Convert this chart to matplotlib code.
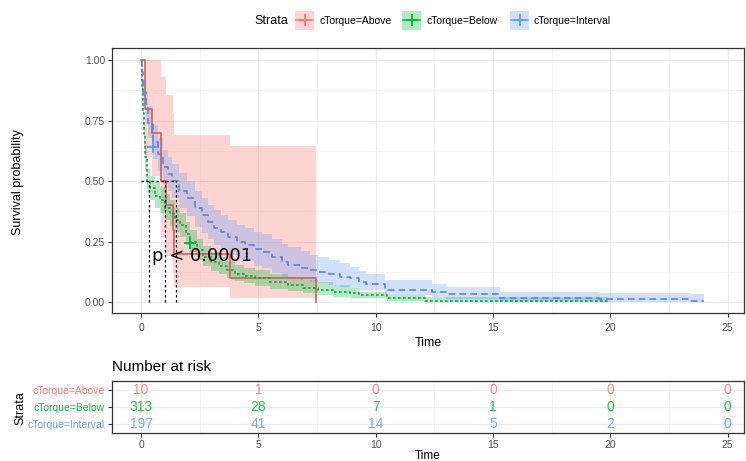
import numpy as np
import matplotlib.pyplot as plt
from matplotlib.patches import Rectangle
from matplotlib.lines import Line2D

plt.rcParams['font.family'] = ['Liberation Sans', 'DejaVu Sans']

# dane
strata = ['cTorque=Above', 'cTorque=Below', 'cTorque=Interval']
colors = ['#F8766D', '#00BA38', '#619CFF']
line_colors = ['#D0605A', '#1E9E48', '#5B84D4']

red_t = [0, 0.17, 0.46, 0.83, 1.05, 1.34, 1.41, 3.8, 7.45]
red_s = [1.0, 0.8, 0.7, 0.5, 0.4, 0.3, 0.2, 0.1, 0.0]
red_hi = [1.0, 1.0, 1.0, 0.93, 0.855, 0.78, 0.69, 0.645, 0.645]
red_lo = [1.0, 0.6, 0.52, 0.27, 0.19, 0.12, 0.063, 0.018, 0.018]

green_t = [0, 0.03, 0.07, 0.12, 0.18, 0.27, 0.4, 0.6, 0.81, 1.0, 1.24, 1.45, 1.66, 1.9, 2.09, 2.4,
           2.66, 3.0, 3.3, 3.65, 4.0, 4.4, 4.86, 5.5, 6.28, 6.9, 7.56, 8.2, 8.9, 9.3, 10.5, 12.1, 19.9]
green_s = [1.0, 0.88, 0.78, 0.69, 0.60, 0.50, 0.47, 0.44, 0.42, 0.39, 0.366, 0.34, 0.318, 0.28, 0.25, 0.215,
           0.187, 0.165, 0.148, 0.132, 0.118, 0.107, 0.098, 0.085, 0.07, 0.06, 0.052, 0.043, 0.036, 0.029, 0.015, 0.004, 0.004]
green_lo = [1.0, 0.85, 0.74, 0.64, 0.55, 0.45, 0.42, 0.39, 0.367, 0.34, 0.315, 0.29, 0.27, 0.235, 0.205, 0.175,
            0.15, 0.13, 0.115, 0.10, 0.088, 0.078, 0.066, 0.056, 0.044, 0.036, 0.029, 0.023, 0.018, 0.015, 0.005, 0.0, 0.0]
green_hi = [1.0, 0.91, 0.82, 0.74, 0.65, 0.55, 0.52, 0.495, 0.476, 0.445, 0.42, 0.39, 0.37, 0.33, 0.30, 0.26,
            0.23, 0.205, 0.185, 0.168, 0.152, 0.14, 0.132, 0.117, 0.10, 0.09, 0.084, 0.07, 0.058, 0.043, 0.03, 0.02, 0.02]

blue_t = [0, 0.03, 0.1, 0.19, 0.3, 0.5, 0.7, 0.95, 1.15, 1.31, 1.6, 1.95, 2.3, 2.6, 2.85, 3.1, 3.4, 3.72,
          4.1, 4.44, 4.8, 5.15, 5.6, 6.0, 6.28, 6.8, 7.2, 7.56, 8.0, 8.5, 8.9, 9.3, 9.6, 10.4, 12.4, 13.0,
          15.3, 19.5, 23.4, 24.0]
blue_s = [1.0, 0.95, 0.87, 0.81, 0.74, 0.66, 0.61, 0.56, 0.53, 0.50, 0.46, 0.43, 0.39, 0.36, 0.33, 0.305, 0.29, 0.27,
          0.25, 0.235, 0.218, 0.206, 0.185, 0.165, 0.153, 0.142, 0.132, 0.125, 0.116, 0.105, 0.098, 0.085, 0.075, 0.052, 0.043, 0.032,
          0.015, 0.012, 0.005, 0.005]
blue_lo = [1.0, 0.92, 0.82, 0.75, 0.68, 0.59, 0.54, 0.49, 0.46, 0.43, 0.39, 0.355, 0.31, 0.285, 0.26, 0.235, 0.215, 0.195,
           0.18, 0.17, 0.15, 0.14, 0.12, 0.105, 0.098, 0.09, 0.082, 0.077, 0.07, 0.062, 0.058, 0.052, 0.048, 0.03, 0.022, 0.012,
           0.003, 0.002, 0.0, 0.0]
blue_hi = [1.0, 0.98, 0.92, 0.87, 0.81, 0.73, 0.68, 0.63, 0.60, 0.57, 0.535, 0.50, 0.46, 0.43, 0.40, 0.38, 0.36, 0.34,
           0.32, 0.305, 0.29, 0.28, 0.26, 0.24, 0.229, 0.21, 0.195, 0.187, 0.175, 0.16, 0.145, 0.13, 0.118, 0.09, 0.075, 0.063,
           0.04, 0.038, 0.035, 0.035]

# znaczniki cenzurowania
cens_x = [2.09, 0.5]
cens_y = [0.245, 0.64]
cens_c = [colors[1], colors[2]]

# mediany
med_x = [0.33, 1.02, 1.48]

risk_times = [0, 5, 10, 15, 20, 25]
risk_above = [10, 1, 0, 0, 0, 0]
risk_below = [313, 28, 7, 1, 0, 0]
risk_interval = [197, 41, 14, 5, 2, 0]

W, H = 746, 461
fig = plt.figure(figsize=(W / 100, H / 100), dpi=100)
ax = fig.add_axes([112 / W, 1 - 313 / H, (744 - 112) / W, (313 - 48) / H])
axr = fig.add_axes([112 / W, 1 - 433 / H, (744 - 112) / W, (433 - 381) / H])

xlim = (-1.24, 25.7)
grid_major = '#EBEBEB'
grid_minor = '#F4F4F4'


def style(a):
    a.set_xlim(*xlim)
    a.set_xticks([0, 5, 10, 15, 20, 25])
    a.set_xticks([2.5, 7.5, 12.5, 17.5, 22.5], minor=True)
    a.grid(True, which='major', color=grid_major, lw=0.9)
    a.grid(True, which='minor', axis='x', color=grid_minor, lw=0.6)
    a.set_axisbelow(True)
    for s in a.spines.values():
        s.set_color('#333333')
        s.set_linewidth(0.9)
    a.tick_params(which='major', length=3, color='#333333', labelcolor='#4D4D4D', labelsize=7.5, pad=2)
    a.tick_params(which='minor', length=0)


style(ax)
ax.tick_params(axis='x', pad=4)
ax.set_ylim(-0.045, 1.05)
ax.set_yticks([0, 0.25, 0.5, 0.75, 1.0])
ax.set_yticks([0.125, 0.375, 0.625, 0.875], minor=True)
ax.grid(True, which='minor', axis='y', color=grid_minor, lw=0.6)
ax.set_yticklabels(['0.00', '0.25', '0.50', '0.75', '1.00'])

curves = [(red_t, red_s, red_lo, red_hi, '-'),
          (green_t, green_s, green_lo, green_hi, (0, (1.6, 1.4))),
          (blue_t, blue_s, blue_lo, blue_hi, (0, (4, 2.5)))]
for (t, s, lo, hi, ls), c in zip(curves, colors):
    ax.fill_between(t, lo, hi, step='post', color=c, alpha=0.3, lw=0)
for (t, s, lo, hi, ls), c in zip(curves, line_colors):
    ax.step(t, s, where='post', color=c, lw=1.2, ls=ls)

for x, y, c in zip(cens_x, cens_y, cens_c):
    ax.plot(x, y, marker='+', color=c, ms=8, mew=1.4)

ax.plot([0, max(med_x)], [0.5, 0.5], color='black', ls=(0, (2, 2)), lw=0.9)
for m in med_x:
    ax.plot([m, m], [0, 0.5], color='black', ls=(0, (2, 2)), lw=0.9)

ax.text(0.45, 0.19, 'p < 0.0001', fontsize=13, family='DejaVu Sans', va='center', ha='left')
ax.set_xlabel('Time', fontsize=9, labelpad=3)
fig.text(18 / W, 1 - 182 / H, 'Survival probability', rotation=90, ha='center', va='center', fontsize=9)

# legenda (recznie, jak w ggplot)
ly = 1 - 20.5 / H
fig.text(288 / W, ly, 'Strata', ha='right', va='center', fontsize=9)
key_x = [295, 402, 510]
for kx, c, name in zip(key_x, colors, strata):
    fig.patches.append(Rectangle((kx / W, 1 - 30 / H), 19 / W, 19 / H, transform=fig.transFigure,
                                 color=c, alpha=0.3, lw=0))
    fig.lines.append(Line2D([(kx + 1) / W, (kx + 18) / W], [ly, ly], transform=fig.transFigure,
                            color=c, lw=1.1))
    fig.lines.append(Line2D([(kx + 9.5) / W], [ly], transform=fig.transFigure, color=c,
                            marker='+', ms=8, mew=1.3))
    fig.text((kx + 24) / W, ly, name, ha='left', va='center', fontsize=7.5)

# tabela liczby narazonych
style(axr)
axr.set_ylim(2.5, -0.5)
axr.set_yticks([0, 1, 2])
axr.set_yticklabels(strata, fontsize=7.5)
for lab, c in zip(axr.get_yticklabels(), colors):
    lab.set_color(c)
for row, (vals, c) in enumerate(zip([risk_above, risk_below, risk_interval], colors)):
    for t, v in zip(risk_times, vals):
        axr.text(t, row, str(v), color=c, alpha=0.85, ha='center', va='center', fontsize=10)
axr.set_xlabel('Time', fontsize=8.5, labelpad=0)
fig.text(112 / W, 1 - 367 / H, 'Number at risk', fontsize=11, va='center', ha='left')
fig.text(20 / W, 1 - 408 / H, 'Strata', rotation=90, ha='center', va='center', fontsize=9)

fig.savefig('out.png', dpi=100)
